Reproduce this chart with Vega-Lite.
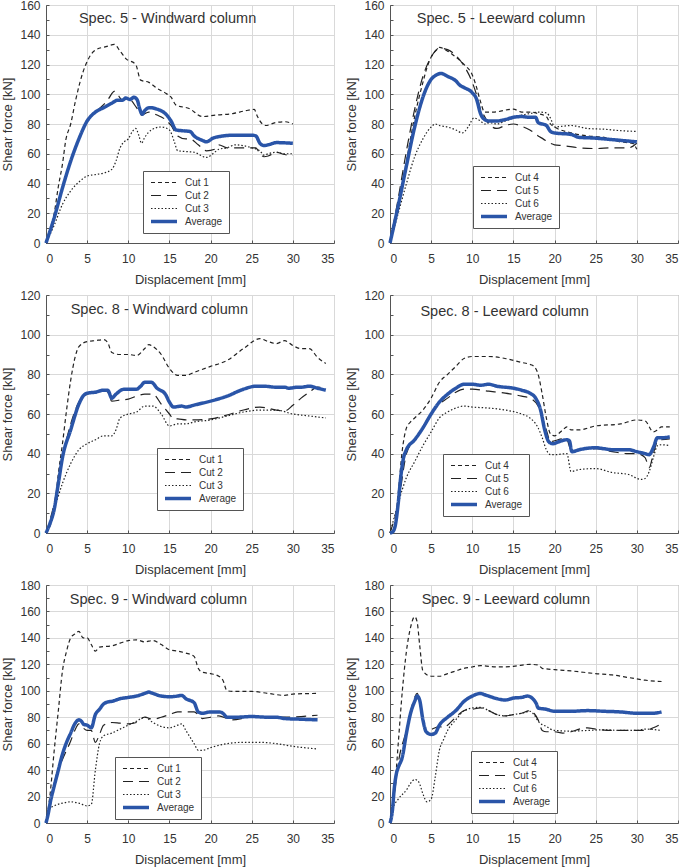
{
"$schema": "https://vega.github.io/schema/vega-lite/v6.json",
"autosize": {"type": "pad"},
"padding": {"left": 1, "top": -2, "right": 0, "bottom": 0},
"background": "white",
"config": {
  "font": "Liberation Sans",
  "view": {"stroke": "#888", "strokeWidth": 1},
  "axis": {"labelFont": "Liberation Sans", "labelFontSize": 12, "labelColor": "#333", "titleFont": "Liberation Sans", "titleFontSize": 13, "titleFontWeight": "normal", "titleColor": "#333", "gridColor": "#d9d9d9", "gridWidth": 1, "domainColor": "#555", "tickColor": "#555", "tickSize": -3, "labelOverlap": false},
  "axisX": {"labelPadding": 13, "titlePadding": 9, "values": [0,5,10,15,20,25,30,35]},
  "axisY": {"labelPadding": 9, "titlePadding": 5},
  "legend": {"title": null, "orient": "none", "symbolType": "stroke", "symbolSize": 676, "clipHeight": 11, "rowPadding": 2, "padding": 6, "fillColor": "white", "strokeColor": "#555", "labelFontSize": 10, "labelOffset": 6, "labelColor": "#333", "labelFont": "Liberation Sans", "cornerRadius": 0},
  "text": {"font": "Liberation Sans", "fill": "#333"}
},
"bounds": "flush",
"columns": 2,
"spacing": {"row": 52, "column": 56},
"resolve": {"scale": {"x": "independent", "y": "independent", "color": "independent", "strokeDash": "independent", "strokeWidth": "independent"}},
"datasets": {
"p1": [
{"s":"Cut 1","x":0,"y":0},{"s":"Cut 1","x":0.5,"y":8.5},{"s":"Cut 1","x":1,"y":20},{"s":"Cut 1","x":1.5,"y":38},{"s":"Cut 1","x":2,"y":53},{"s":"Cut 1","x":2.4,"y":69},{"s":"Cut 1","x":3,"y":80},{"s":"Cut 1","x":3.6,"y":96},{"s":"Cut 1","x":4.5,"y":115},{"s":"Cut 1","x":5,"y":122},{"s":"Cut 1","x":5.5,"y":127},{"s":"Cut 1","x":6.1,"y":130},{"s":"Cut 1","x":7.3,"y":132},{"s":"Cut 1","x":8.3,"y":133.5},{"s":"Cut 1","x":9,"y":129},{"s":"Cut 1","x":9.7,"y":124},{"s":"Cut 1","x":10.9,"y":120},{"s":"Cut 1","x":11.5,"y":109.5},{"s":"Cut 1","x":12.5,"y":108},{"s":"Cut 1","x":13.5,"y":104},{"s":"Cut 1","x":14.6,"y":100.5},{"s":"Cut 1","x":15.2,"y":98},{"s":"Cut 1","x":15.8,"y":92.7},{"s":"Cut 1","x":17.4,"y":90.4},{"s":"Cut 1","x":19,"y":85},{"s":"Cut 1","x":20.6,"y":86},{"s":"Cut 1","x":22.7,"y":87},{"s":"Cut 1","x":24.3,"y":89},{"s":"Cut 1","x":25.3,"y":89.8},{"s":"Cut 1","x":25.7,"y":85},{"s":"Cut 1","x":26.3,"y":80},{"s":"Cut 1","x":26.7,"y":79},{"s":"Cut 1","x":27.9,"y":81},{"s":"Cut 1","x":29.1,"y":81.5},{"s":"Cut 1","x":30,"y":80},
{"s":"Cut 2","x":0,"y":0},{"s":"Cut 2","x":1,"y":17},{"s":"Cut 2","x":2,"y":37},{"s":"Cut 2","x":3,"y":55},{"s":"Cut 2","x":4,"y":70},{"s":"Cut 2","x":5,"y":82},{"s":"Cut 2","x":6,"y":88},{"s":"Cut 2","x":7,"y":93},{"s":"Cut 2","x":7.6,"y":97},{"s":"Cut 2","x":8.3,"y":102},{"s":"Cut 2","x":8.8,"y":99},{"s":"Cut 2","x":9.3,"y":96},{"s":"Cut 2","x":10,"y":97},{"s":"Cut 2","x":11,"y":91},{"s":"Cut 2","x":11.6,"y":86},{"s":"Cut 2","x":12.5,"y":88},{"s":"Cut 2","x":13.5,"y":86},{"s":"Cut 2","x":14.5,"y":83},{"s":"Cut 2","x":15.2,"y":79},{"s":"Cut 2","x":16,"y":72},{"s":"Cut 2","x":17,"y":70},{"s":"Cut 2","x":17.5,"y":70},{"s":"Cut 2","x":18.5,"y":66},{"s":"Cut 2","x":19.5,"y":62},{"s":"Cut 2","x":20.5,"y":63},{"s":"Cut 2","x":21,"y":66},{"s":"Cut 2","x":22,"y":64},{"s":"Cut 2","x":24,"y":64},{"s":"Cut 2","x":25.5,"y":64},{"s":"Cut 2","x":26,"y":60},{"s":"Cut 2","x":26.5,"y":58},{"s":"Cut 2","x":27,"y":58.5},{"s":"Cut 2","x":28,"y":61},{"s":"Cut 2","x":29,"y":59.5},{"s":"Cut 2","x":30,"y":59},
{"s":"Cut 3","x":0,"y":0},{"s":"Cut 3","x":1,"y":12},{"s":"Cut 3","x":2,"y":26},{"s":"Cut 3","x":3,"y":35},{"s":"Cut 3","x":4,"y":41},{"s":"Cut 3","x":5,"y":45},{"s":"Cut 3","x":6,"y":46},{"s":"Cut 3","x":7,"y":47},{"s":"Cut 3","x":8,"y":49.5},{"s":"Cut 3","x":8.5,"y":55},{"s":"Cut 3","x":9,"y":64},{"s":"Cut 3","x":9.5,"y":68},{"s":"Cut 3","x":10,"y":70},{"s":"Cut 3","x":10.5,"y":75},{"s":"Cut 3","x":10.9,"y":77},{"s":"Cut 3","x":11.3,"y":72},{"s":"Cut 3","x":11.6,"y":67},{"s":"Cut 3","x":12,"y":71},{"s":"Cut 3","x":12.8,"y":76},{"s":"Cut 3","x":14,"y":78},{"s":"Cut 3","x":15,"y":76},{"s":"Cut 3","x":15.6,"y":68},{"s":"Cut 3","x":16,"y":62},{"s":"Cut 3","x":17,"y":61.5},{"s":"Cut 3","x":18,"y":61},{"s":"Cut 3","x":19.5,"y":57.5},{"s":"Cut 3","x":20.5,"y":61},{"s":"Cut 3","x":21,"y":63},{"s":"Cut 3","x":22,"y":64},{"s":"Cut 3","x":23,"y":66},{"s":"Cut 3","x":25,"y":64},{"s":"Cut 3","x":26,"y":62},{"s":"Cut 3","x":26.5,"y":59},{"s":"Cut 3","x":27,"y":60},{"s":"Cut 3","x":28,"y":61},{"s":"Cut 3","x":29,"y":60},{"s":"Cut 3","x":30,"y":60},
{"s":"Average","x":0,"y":0},{"s":"Average","x":1,"y":17},{"s":"Average","x":2,"y":37},{"s":"Average","x":3,"y":55},{"s":"Average","x":4,"y":70},{"s":"Average","x":5,"y":82},{"s":"Average","x":6,"y":88},{"s":"Average","x":7,"y":91},{"s":"Average","x":8,"y":94},{"s":"Average","x":8.7,"y":96},{"s":"Average","x":9.3,"y":96},{"s":"Average","x":9.7,"y":97.5},{"s":"Average","x":10.2,"y":96.5},{"s":"Average","x":10.7,"y":98},{"s":"Average","x":11.1,"y":96},{"s":"Average","x":11.4,"y":90},{"s":"Average","x":11.7,"y":86.5},{"s":"Average","x":12,"y":89},{"s":"Average","x":12.6,"y":91},{"s":"Average","x":13.5,"y":90},{"s":"Average","x":14.5,"y":87},{"s":"Average","x":15.2,"y":82},{"s":"Average","x":15.8,"y":76},{"s":"Average","x":16.5,"y":75.5},{"s":"Average","x":17.5,"y":75},{"s":"Average","x":18,"y":72},{"s":"Average","x":19,"y":69},{"s":"Average","x":19.5,"y":68},{"s":"Average","x":20.3,"y":70.5},{"s":"Average","x":21,"y":71.5},{"s":"Average","x":23,"y":72.5},{"s":"Average","x":25,"y":72.5},{"s":"Average","x":25.5,"y":72},{"s":"Average","x":26,"y":67},{"s":"Average","x":26.5,"y":65.5},{"s":"Average","x":27,"y":66},{"s":"Average","x":28,"y":67.5},{"s":"Average","x":30,"y":67}
],
"p2": [
{"s":"Cut 4","x":0,"y":0},{"s":"Cut 4","x":1,"y":25},{"s":"Cut 4","x":2,"y":55},{"s":"Cut 4","x":3,"y":85},{"s":"Cut 4","x":4,"y":108},{"s":"Cut 4","x":4.5,"y":118},{"s":"Cut 4","x":5,"y":125},{"s":"Cut 4","x":5.7,"y":130},{"s":"Cut 4","x":6,"y":131.5},{"s":"Cut 4","x":7,"y":129},{"s":"Cut 4","x":8,"y":125},{"s":"Cut 4","x":9,"y":120},{"s":"Cut 4","x":10,"y":113},{"s":"Cut 4","x":10.5,"y":105},{"s":"Cut 4","x":11,"y":95},{"s":"Cut 4","x":11.5,"y":88},{"s":"Cut 4","x":12.5,"y":88},{"s":"Cut 4","x":15,"y":90},{"s":"Cut 4","x":16,"y":88},{"s":"Cut 4","x":17,"y":88},{"s":"Cut 4","x":18,"y":87},{"s":"Cut 4","x":19,"y":85},{"s":"Cut 4","x":19.5,"y":80},{"s":"Cut 4","x":20,"y":78},{"s":"Cut 4","x":22,"y":74},{"s":"Cut 4","x":24,"y":72},{"s":"Cut 4","x":26,"y":71},{"s":"Cut 4","x":28,"y":68},{"s":"Cut 4","x":29.5,"y":67},{"s":"Cut 4","x":30,"y":63},
{"s":"Cut 5","x":0,"y":0},{"s":"Cut 5","x":1,"y":30},{"s":"Cut 5","x":2,"y":62},{"s":"Cut 5","x":3,"y":90},{"s":"Cut 5","x":4,"y":112},{"s":"Cut 5","x":5,"y":125},{"s":"Cut 5","x":6,"y":131},{"s":"Cut 5","x":7,"y":130},{"s":"Cut 5","x":8,"y":126},{"s":"Cut 5","x":9,"y":119},{"s":"Cut 5","x":10,"y":108},{"s":"Cut 5","x":10.5,"y":100},{"s":"Cut 5","x":11,"y":90},{"s":"Cut 5","x":11.5,"y":85},{"s":"Cut 5","x":12,"y":80},{"s":"Cut 5","x":13,"y":77},{"s":"Cut 5","x":14,"y":79},{"s":"Cut 5","x":15,"y":80},{"s":"Cut 5","x":16,"y":78.5},{"s":"Cut 5","x":17,"y":76},{"s":"Cut 5","x":18,"y":72},{"s":"Cut 5","x":18.6,"y":70},{"s":"Cut 5","x":19.5,"y":67},{"s":"Cut 5","x":20,"y":66},{"s":"Cut 5","x":21,"y":65.5},{"s":"Cut 5","x":23,"y":64},{"s":"Cut 5","x":25,"y":63.5},{"s":"Cut 5","x":27,"y":64},{"s":"Cut 5","x":29,"y":64},{"s":"Cut 5","x":30,"y":67},
{"s":"Cut 6","x":0,"y":0},{"s":"Cut 6","x":1,"y":20},{"s":"Cut 6","x":2,"y":40},{"s":"Cut 6","x":3,"y":58},{"s":"Cut 6","x":4,"y":70},{"s":"Cut 6","x":5,"y":78},{"s":"Cut 6","x":5.5,"y":80},{"s":"Cut 6","x":6,"y":79},{"s":"Cut 6","x":7,"y":78},{"s":"Cut 6","x":8,"y":76},{"s":"Cut 6","x":8.8,"y":74},{"s":"Cut 6","x":9.5,"y":78},{"s":"Cut 6","x":10.2,"y":84},{"s":"Cut 6","x":11,"y":82},{"s":"Cut 6","x":11.5,"y":80},{"s":"Cut 6","x":12,"y":81},{"s":"Cut 6","x":13,"y":80},{"s":"Cut 6","x":14,"y":82},{"s":"Cut 6","x":15,"y":84},{"s":"Cut 6","x":16,"y":86},{"s":"Cut 6","x":17,"y":87},{"s":"Cut 6","x":18,"y":88},{"s":"Cut 6","x":19,"y":87.5},{"s":"Cut 6","x":19.5,"y":84},{"s":"Cut 6","x":20,"y":78},{"s":"Cut 6","x":21,"y":78.5},{"s":"Cut 6","x":22,"y":79},{"s":"Cut 6","x":24,"y":77},{"s":"Cut 6","x":26,"y":76.5},{"s":"Cut 6","x":28,"y":75.5},{"s":"Cut 6","x":30,"y":75},
{"s":"Average","x":0,"y":0},{"s":"Average","x":1,"y":25},{"s":"Average","x":2,"y":52},{"s":"Average","x":3,"y":78},{"s":"Average","x":4,"y":98},{"s":"Average","x":5,"y":110},{"s":"Average","x":5.5,"y":112.5},{"s":"Average","x":6.2,"y":114},{"s":"Average","x":7,"y":112},{"s":"Average","x":8,"y":109},{"s":"Average","x":8.5,"y":106},{"s":"Average","x":9,"y":104.5},{"s":"Average","x":10,"y":101},{"s":"Average","x":10.5,"y":97},{"s":"Average","x":11,"y":87},{"s":"Average","x":11.5,"y":83},{"s":"Average","x":12,"y":82},{"s":"Average","x":13,"y":82},{"s":"Average","x":14,"y":83},{"s":"Average","x":15,"y":84.5},{"s":"Average","x":16,"y":85},{"s":"Average","x":17,"y":84.5},{"s":"Average","x":17.7,"y":84.5},{"s":"Average","x":18,"y":81},{"s":"Average","x":19,"y":79},{"s":"Average","x":19.5,"y":75},{"s":"Average","x":20,"y":74},{"s":"Average","x":22,"y":73},{"s":"Average","x":23,"y":71},{"s":"Average","x":25,"y":70.5},{"s":"Average","x":26,"y":70},{"s":"Average","x":27,"y":69.5},{"s":"Average","x":28,"y":69},{"s":"Average","x":29,"y":68.5},{"s":"Average","x":30,"y":68}
],
"p3": [
{"s":"Cut 1","x":0,"y":0},{"s":"Cut 1","x":1,"y":12},{"s":"Cut 1","x":1.5,"y":30},{"s":"Cut 1","x":2,"y":45},{"s":"Cut 1","x":2.5,"y":62},{"s":"Cut 1","x":3,"y":77},{"s":"Cut 1","x":3.5,"y":88},{"s":"Cut 1","x":4,"y":94},{"s":"Cut 1","x":5,"y":96.5},{"s":"Cut 1","x":6,"y":97},{"s":"Cut 1","x":7,"y":97.5},{"s":"Cut 1","x":7.5,"y":96},{"s":"Cut 1","x":8,"y":91},{"s":"Cut 1","x":9,"y":90},{"s":"Cut 1","x":10,"y":90},{"s":"Cut 1","x":11,"y":89.5},{"s":"Cut 1","x":12,"y":93},{"s":"Cut 1","x":12.5,"y":95},{"s":"Cut 1","x":13,"y":94},{"s":"Cut 1","x":14,"y":90},{"s":"Cut 1","x":15,"y":83},{"s":"Cut 1","x":16,"y":79.5},{"s":"Cut 1","x":17,"y":79.5},{"s":"Cut 1","x":18,"y":81},{"s":"Cut 1","x":20,"y":84},{"s":"Cut 1","x":22,"y":87},{"s":"Cut 1","x":24,"y":93},{"s":"Cut 1","x":26,"y":98},{"s":"Cut 1","x":27,"y":96.5},{"s":"Cut 1","x":28,"y":95.5},{"s":"Cut 1","x":29,"y":97},{"s":"Cut 1","x":30,"y":94.5},{"s":"Cut 1","x":31,"y":93},{"s":"Cut 1","x":32,"y":93},{"s":"Cut 1","x":33,"y":88.5},{"s":"Cut 1","x":34,"y":85.5},
{"s":"Cut 2","x":0,"y":0},{"s":"Cut 2","x":1,"y":15},{"s":"Cut 2","x":2,"y":38},{"s":"Cut 2","x":3,"y":55},{"s":"Cut 2","x":4,"y":66},{"s":"Cut 2","x":5,"y":70},{"s":"Cut 2","x":6,"y":71},{"s":"Cut 2","x":7,"y":72},{"s":"Cut 2","x":7.5,"y":71},{"s":"Cut 2","x":8,"y":66.5},{"s":"Cut 2","x":9,"y":67},{"s":"Cut 2","x":10,"y":67.5},{"s":"Cut 2","x":11,"y":69},{"s":"Cut 2","x":12,"y":70},{"s":"Cut 2","x":13,"y":70},{"s":"Cut 2","x":14,"y":65},{"s":"Cut 2","x":15,"y":60},{"s":"Cut 2","x":15.5,"y":57.5},{"s":"Cut 2","x":16,"y":57.5},{"s":"Cut 2","x":17,"y":57},{"s":"Cut 2","x":18,"y":57},{"s":"Cut 2","x":20,"y":57.5},{"s":"Cut 2","x":22,"y":59.5},{"s":"Cut 2","x":24,"y":62},{"s":"Cut 2","x":26,"y":63.5},{"s":"Cut 2","x":28,"y":62},{"s":"Cut 2","x":29,"y":61.5},{"s":"Cut 2","x":30,"y":64.4},{"s":"Cut 2","x":31,"y":68},{"s":"Cut 2","x":32,"y":71},{"s":"Cut 2","x":33,"y":73.6},{"s":"Cut 2","x":34,"y":72.5},
{"s":"Cut 3","x":0,"y":0},{"s":"Cut 3","x":1,"y":12},{"s":"Cut 3","x":2,"y":25},{"s":"Cut 3","x":3,"y":35},{"s":"Cut 3","x":4,"y":42},{"s":"Cut 3","x":5,"y":45},{"s":"Cut 3","x":6,"y":47},{"s":"Cut 3","x":7,"y":49},{"s":"Cut 3","x":8,"y":49},{"s":"Cut 3","x":8.5,"y":52},{"s":"Cut 3","x":9,"y":58},{"s":"Cut 3","x":10,"y":60},{"s":"Cut 3","x":11,"y":61},{"s":"Cut 3","x":12,"y":64},{"s":"Cut 3","x":13,"y":64},{"s":"Cut 3","x":14,"y":60},{"s":"Cut 3","x":15,"y":54},{"s":"Cut 3","x":16,"y":55},{"s":"Cut 3","x":17,"y":55},{"s":"Cut 3","x":18,"y":56},{"s":"Cut 3","x":20,"y":57},{"s":"Cut 3","x":22,"y":59},{"s":"Cut 3","x":24,"y":61},{"s":"Cut 3","x":26,"y":62},{"s":"Cut 3","x":28,"y":62},{"s":"Cut 3","x":30,"y":60},{"s":"Cut 3","x":32,"y":59},{"s":"Cut 3","x":34,"y":58},
{"s":"Average","x":0,"y":0},{"s":"Average","x":0.5,"y":5},{"s":"Average","x":1,"y":12},{"s":"Average","x":1.5,"y":25},{"s":"Average","x":2,"y":38},{"s":"Average","x":3,"y":52},{"s":"Average","x":4,"y":65},{"s":"Average","x":4.5,"y":69},{"s":"Average","x":5,"y":70.5},{"s":"Average","x":6,"y":71},{"s":"Average","x":7,"y":72},{"s":"Average","x":7.5,"y":72},{"s":"Average","x":8,"y":68},{"s":"Average","x":8.5,"y":70},{"s":"Average","x":9.5,"y":72.5},{"s":"Average","x":10.5,"y":72.5},{"s":"Average","x":11,"y":72.5},{"s":"Average","x":11.5,"y":74},{"s":"Average","x":12,"y":76},{"s":"Average","x":12.8,"y":76},{"s":"Average","x":13.5,"y":73},{"s":"Average","x":14.5,"y":70},{"s":"Average","x":15,"y":66},{"s":"Average","x":15.5,"y":63.5},{"s":"Average","x":16.5,"y":64},{"s":"Average","x":17,"y":63.5},{"s":"Average","x":18,"y":64.5},{"s":"Average","x":20,"y":66.5},{"s":"Average","x":22,"y":69},{"s":"Average","x":24,"y":72.5},{"s":"Average","x":25.5,"y":74},{"s":"Average","x":26.5,"y":74},{"s":"Average","x":28,"y":73.5},{"s":"Average","x":29,"y":73.5},{"s":"Average","x":29.5,"y":73},{"s":"Average","x":30.5,"y":73.5},{"s":"Average","x":31,"y":73.5},{"s":"Average","x":32,"y":74},{"s":"Average","x":33,"y":73},{"s":"Average","x":34,"y":72}
],
"p4": [
{"s":"Cut 4","x":0,"y":0},{"s":"Cut 4","x":0.5,"y":2},{"s":"Cut 4","x":1,"y":20},{"s":"Cut 4","x":1.5,"y":42},{"s":"Cut 4","x":2,"y":53},{"s":"Cut 4","x":2.5,"y":56},{"s":"Cut 4","x":3,"y":58},{"s":"Cut 4","x":4,"y":62},{"s":"Cut 4","x":5,"y":68},{"s":"Cut 4","x":6,"y":76},{"s":"Cut 4","x":7,"y":80},{"s":"Cut 4","x":8,"y":84},{"s":"Cut 4","x":9,"y":88},{"s":"Cut 4","x":10,"y":89},{"s":"Cut 4","x":12,"y":89},{"s":"Cut 4","x":14,"y":88},{"s":"Cut 4","x":16,"y":86},{"s":"Cut 4","x":17,"y":85},{"s":"Cut 4","x":17.5,"y":84},{"s":"Cut 4","x":18,"y":80},{"s":"Cut 4","x":18.5,"y":70},{"s":"Cut 4","x":19,"y":58},{"s":"Cut 4","x":19.5,"y":50},{"s":"Cut 4","x":20,"y":49},{"s":"Cut 4","x":21,"y":52},{"s":"Cut 4","x":21.5,"y":53.5},{"s":"Cut 4","x":22,"y":52},{"s":"Cut 4","x":23,"y":52},{"s":"Cut 4","x":25,"y":54},{"s":"Cut 4","x":28,"y":55},{"s":"Cut 4","x":30,"y":57},{"s":"Cut 4","x":31,"y":56.5},{"s":"Cut 4","x":32,"y":51},{"s":"Cut 4","x":32.5,"y":52},{"s":"Cut 4","x":33,"y":53.5},{"s":"Cut 4","x":34,"y":53.5},
{"s":"Cut 5","x":0,"y":0},{"s":"Cut 5","x":1,"y":15},{"s":"Cut 5","x":2,"y":40},{"s":"Cut 5","x":3,"y":47},{"s":"Cut 5","x":4,"y":53},{"s":"Cut 5","x":5,"y":60},{"s":"Cut 5","x":6,"y":65},{"s":"Cut 5","x":7,"y":68},{"s":"Cut 5","x":8,"y":71},{"s":"Cut 5","x":9,"y":72.5},{"s":"Cut 5","x":10,"y":72.5},{"s":"Cut 5","x":12,"y":71.5},{"s":"Cut 5","x":14,"y":70.5},{"s":"Cut 5","x":16,"y":69},{"s":"Cut 5","x":17,"y":68},{"s":"Cut 5","x":18,"y":64},{"s":"Cut 5","x":19,"y":52},{"s":"Cut 5","x":19.5,"y":46},{"s":"Cut 5","x":20,"y":46.5},{"s":"Cut 5","x":21,"y":47.5},{"s":"Cut 5","x":21.5,"y":47},{"s":"Cut 5","x":22,"y":42},{"s":"Cut 5","x":23,"y":42},{"s":"Cut 5","x":25,"y":42.5},{"s":"Cut 5","x":27,"y":41},{"s":"Cut 5","x":29,"y":40},{"s":"Cut 5","x":30,"y":40},{"s":"Cut 5","x":31,"y":38},{"s":"Cut 5","x":31.5,"y":33},{"s":"Cut 5","x":32,"y":40},{"s":"Cut 5","x":32.5,"y":46},{"s":"Cut 5","x":33,"y":47},{"s":"Cut 5","x":34,"y":47.5},
{"s":"Cut 6","x":0,"y":0},{"s":"Cut 6","x":1,"y":15},{"s":"Cut 6","x":1.5,"y":22},{"s":"Cut 6","x":2,"y":28},{"s":"Cut 6","x":3,"y":36},{"s":"Cut 6","x":4,"y":44},{"s":"Cut 6","x":5,"y":51},{"s":"Cut 6","x":6,"y":58},{"s":"Cut 6","x":7,"y":61},{"s":"Cut 6","x":8,"y":63},{"s":"Cut 6","x":9,"y":64},{"s":"Cut 6","x":10,"y":63.5},{"s":"Cut 6","x":12,"y":63},{"s":"Cut 6","x":14,"y":62},{"s":"Cut 6","x":16,"y":60},{"s":"Cut 6","x":17,"y":58},{"s":"Cut 6","x":18,"y":53},{"s":"Cut 6","x":18.5,"y":48},{"s":"Cut 6","x":19,"y":42},{"s":"Cut 6","x":19.5,"y":39.5},{"s":"Cut 6","x":20,"y":39.5},{"s":"Cut 6","x":21.5,"y":40},{"s":"Cut 6","x":22,"y":31},{"s":"Cut 6","x":23,"y":32},{"s":"Cut 6","x":25,"y":32.5},{"s":"Cut 6","x":27,"y":30.5},{"s":"Cut 6","x":29,"y":29.5},{"s":"Cut 6","x":30.5,"y":27},{"s":"Cut 6","x":31,"y":27.5},{"s":"Cut 6","x":31.5,"y":31},{"s":"Cut 6","x":32,"y":38},{"s":"Cut 6","x":32.5,"y":44},{"s":"Cut 6","x":33,"y":44.5},{"s":"Cut 6","x":34,"y":44},
{"s":"Average","x":0,"y":0},{"s":"Average","x":0.3,"y":0.5},{"s":"Average","x":0.6,"y":3},{"s":"Average","x":1,"y":15},{"s":"Average","x":1.3,"y":28},{"s":"Average","x":1.6,"y":37},{"s":"Average","x":2,"y":42},{"s":"Average","x":3,"y":47},{"s":"Average","x":4,"y":53},{"s":"Average","x":5,"y":60},{"s":"Average","x":6,"y":66},{"s":"Average","x":7,"y":70},{"s":"Average","x":8,"y":73},{"s":"Average","x":9,"y":75},{"s":"Average","x":10,"y":75},{"s":"Average","x":11,"y":74.5},{"s":"Average","x":12,"y":75},{"s":"Average","x":13,"y":74},{"s":"Average","x":15,"y":73},{"s":"Average","x":16,"y":72},{"s":"Average","x":17,"y":70.5},{"s":"Average","x":17.7,"y":68},{"s":"Average","x":18.3,"y":62},{"s":"Average","x":18.8,"y":52},{"s":"Average","x":19.3,"y":46},{"s":"Average","x":19.8,"y":45},{"s":"Average","x":20.5,"y":46},{"s":"Average","x":21.5,"y":47},{"s":"Average","x":21.8,"y":46.5},{"s":"Average","x":22.1,"y":41},{"s":"Average","x":23,"y":42},{"s":"Average","x":25,"y":43},{"s":"Average","x":26,"y":42.5},{"s":"Average","x":27,"y":42},{"s":"Average","x":29,"y":42},{"s":"Average","x":30,"y":41},{"s":"Average","x":31,"y":40},{"s":"Average","x":31.5,"y":39.5},{"s":"Average","x":32,"y":43},{"s":"Average","x":32.5,"y":48},{"s":"Average","x":33,"y":48},{"s":"Average","x":34,"y":48.5}
],
"p5": [
{"s":"Cut 1","x":0,"y":0},{"s":"Cut 1","x":0.5,"y":22},{"s":"Cut 1","x":1,"y":55},{"s":"Cut 1","x":1.5,"y":85},{"s":"Cut 1","x":2,"y":115},{"s":"Cut 1","x":2.5,"y":130},{"s":"Cut 1","x":3,"y":140},{"s":"Cut 1","x":3.5,"y":143},{"s":"Cut 1","x":4,"y":145},{"s":"Cut 1","x":4.5,"y":140},{"s":"Cut 1","x":5,"y":140},{"s":"Cut 1","x":5.5,"y":135},{"s":"Cut 1","x":6,"y":130},{"s":"Cut 1","x":6.5,"y":133},{"s":"Cut 1","x":8,"y":134},{"s":"Cut 1","x":9,"y":136},{"s":"Cut 1","x":10,"y":138},{"s":"Cut 1","x":11,"y":138.5},{"s":"Cut 1","x":12,"y":137},{"s":"Cut 1","x":13,"y":138},{"s":"Cut 1","x":14,"y":135},{"s":"Cut 1","x":15,"y":131},{"s":"Cut 1","x":16,"y":130},{"s":"Cut 1","x":17,"y":128.5},{"s":"Cut 1","x":18,"y":126},{"s":"Cut 1","x":18.5,"y":117},{"s":"Cut 1","x":19,"y":114},{"s":"Cut 1","x":20,"y":113},{"s":"Cut 1","x":21,"y":111},{"s":"Cut 1","x":21.5,"y":108},{"s":"Cut 1","x":22,"y":100},{"s":"Cut 1","x":23,"y":99.5},{"s":"Cut 1","x":25,"y":99.5},{"s":"Cut 1","x":27,"y":98},{"s":"Cut 1","x":29,"y":96.5},{"s":"Cut 1","x":30,"y":97.5},{"s":"Cut 1","x":33,"y":98},
{"s":"Cut 2","x":0,"y":0},{"s":"Cut 2","x":0.5,"y":12},{"s":"Cut 2","x":1,"y":30},{"s":"Cut 2","x":2,"y":48},{"s":"Cut 2","x":3,"y":62},{"s":"Cut 2","x":3.5,"y":70},{"s":"Cut 2","x":4,"y":75},{"s":"Cut 2","x":4.5,"y":72},{"s":"Cut 2","x":5,"y":70},{"s":"Cut 2","x":5.5,"y":70},{"s":"Cut 2","x":6,"y":61},{"s":"Cut 2","x":6.5,"y":67},{"s":"Cut 2","x":7,"y":74},{"s":"Cut 2","x":8,"y":76},{"s":"Cut 2","x":9,"y":75.5},{"s":"Cut 2","x":10,"y":75},{"s":"Cut 2","x":11,"y":76},{"s":"Cut 2","x":12,"y":80},{"s":"Cut 2","x":13,"y":78.5},{"s":"Cut 2","x":14,"y":80},{"s":"Cut 2","x":15,"y":82},{"s":"Cut 2","x":16,"y":84},{"s":"Cut 2","x":17,"y":84},{"s":"Cut 2","x":18,"y":84},{"s":"Cut 2","x":18.5,"y":82},{"s":"Cut 2","x":19,"y":79},{"s":"Cut 2","x":20,"y":80},{"s":"Cut 2","x":21,"y":81},{"s":"Cut 2","x":22,"y":79},{"s":"Cut 2","x":22.5,"y":78},{"s":"Cut 2","x":25,"y":80},{"s":"Cut 2","x":27,"y":80},{"s":"Cut 2","x":29,"y":80},{"s":"Cut 2","x":31,"y":80.5},{"s":"Cut 2","x":33,"y":81.5},
{"s":"Cut 3","x":0,"y":0},{"s":"Cut 3","x":0.3,"y":10},{"s":"Cut 3","x":1,"y":13},{"s":"Cut 3","x":2,"y":15},{"s":"Cut 3","x":3,"y":16},{"s":"Cut 3","x":4,"y":15},{"s":"Cut 3","x":5,"y":13},{"s":"Cut 3","x":5.5,"y":14},{"s":"Cut 3","x":6,"y":40},{"s":"Cut 3","x":6.5,"y":60},{"s":"Cut 3","x":7,"y":66},{"s":"Cut 3","x":8,"y":68},{"s":"Cut 3","x":9,"y":71},{"s":"Cut 3","x":10,"y":74},{"s":"Cut 3","x":11,"y":77},{"s":"Cut 3","x":12,"y":80},{"s":"Cut 3","x":13,"y":76},{"s":"Cut 3","x":14,"y":73},{"s":"Cut 3","x":15,"y":72},{"s":"Cut 3","x":16,"y":74},{"s":"Cut 3","x":16.5,"y":75},{"s":"Cut 3","x":17,"y":70},{"s":"Cut 3","x":18,"y":60},{"s":"Cut 3","x":18.5,"y":55},{"s":"Cut 3","x":19,"y":55},{"s":"Cut 3","x":20,"y":57},{"s":"Cut 3","x":22,"y":60},{"s":"Cut 3","x":24,"y":61},{"s":"Cut 3","x":26,"y":61},{"s":"Cut 3","x":28,"y":60},{"s":"Cut 3","x":30,"y":58},{"s":"Cut 3","x":33,"y":56},
{"s":"Average","x":0,"y":0},{"s":"Average","x":0.3,"y":8},{"s":"Average","x":0.5,"y":15},{"s":"Average","x":1,"y":28},{"s":"Average","x":1.5,"y":40},{"s":"Average","x":2,"y":52},{"s":"Average","x":2.5,"y":61},{"s":"Average","x":3,"y":68},{"s":"Average","x":3.5,"y":75},{"s":"Average","x":4,"y":78},{"s":"Average","x":4.3,"y":77},{"s":"Average","x":4.6,"y":74.5},{"s":"Average","x":5,"y":74},{"s":"Average","x":5.5,"y":72},{"s":"Average","x":6,"y":82},{"s":"Average","x":6.5,"y":86},{"s":"Average","x":7,"y":90},{"s":"Average","x":7.5,"y":91.5},{"s":"Average","x":8,"y":92},{"s":"Average","x":9,"y":94},{"s":"Average","x":10,"y":95},{"s":"Average","x":11,"y":96},{"s":"Average","x":12,"y":98},{"s":"Average","x":12.5,"y":99},{"s":"Average","x":13,"y":98},{"s":"Average","x":14,"y":96},{"s":"Average","x":15,"y":95.5},{"s":"Average","x":16,"y":96},{"s":"Average","x":16.5,"y":96.5},{"s":"Average","x":17,"y":94},{"s":"Average","x":18,"y":91},{"s":"Average","x":18.5,"y":84},{"s":"Average","x":19,"y":83},{"s":"Average","x":20,"y":84},{"s":"Average","x":21,"y":84},{"s":"Average","x":21.5,"y":83},{"s":"Average","x":22,"y":80},{"s":"Average","x":23,"y":80},{"s":"Average","x":25,"y":80.5},{"s":"Average","x":27,"y":80},{"s":"Average","x":28,"y":80},{"s":"Average","x":29,"y":79},{"s":"Average","x":31,"y":78.5},{"s":"Average","x":33,"y":78}
],
"p6": [
{"s":"Cut 4","x":0,"y":0},{"s":"Cut 4","x":0.5,"y":20},{"s":"Cut 4","x":1,"y":60},{"s":"Cut 4","x":1.5,"y":100},{"s":"Cut 4","x":2,"y":130},{"s":"Cut 4","x":2.5,"y":148},{"s":"Cut 4","x":3,"y":156},{"s":"Cut 4","x":3.3,"y":152},{"s":"Cut 4","x":3.6,"y":135},{"s":"Cut 4","x":4,"y":115},{"s":"Cut 4","x":5,"y":111},{"s":"Cut 4","x":6,"y":111},{"s":"Cut 4","x":7,"y":113},{"s":"Cut 4","x":8,"y":115},{"s":"Cut 4","x":9,"y":117},{"s":"Cut 4","x":10,"y":118},{"s":"Cut 4","x":11,"y":119},{"s":"Cut 4","x":13,"y":118},{"s":"Cut 4","x":15,"y":118.5},{"s":"Cut 4","x":17,"y":120},{"s":"Cut 4","x":18,"y":119.5},{"s":"Cut 4","x":18.5,"y":117},{"s":"Cut 4","x":20,"y":116},{"s":"Cut 4","x":22,"y":115},{"s":"Cut 4","x":25,"y":113},{"s":"Cut 4","x":27,"y":112},{"s":"Cut 4","x":29,"y":110},{"s":"Cut 4","x":31,"y":108},{"s":"Cut 4","x":33,"y":107},
{"s":"Cut 5","x":0,"y":0},{"s":"Cut 5","x":0.5,"y":20},{"s":"Cut 5","x":1,"y":45},{"s":"Cut 5","x":2,"y":70},{"s":"Cut 5","x":3,"y":95},{"s":"Cut 5","x":3.3,"y":98},{"s":"Cut 5","x":3.8,"y":85},{"s":"Cut 5","x":4.2,"y":72},{"s":"Cut 5","x":5,"y":71},{"s":"Cut 5","x":6,"y":73},{"s":"Cut 5","x":6.5,"y":72},{"s":"Cut 5","x":7,"y":74},{"s":"Cut 5","x":8,"y":80},{"s":"Cut 5","x":9,"y":85},{"s":"Cut 5","x":10,"y":86},{"s":"Cut 5","x":11,"y":87},{"s":"Cut 5","x":12,"y":85},{"s":"Cut 5","x":13,"y":82},{"s":"Cut 5","x":14,"y":81},{"s":"Cut 5","x":15,"y":82},{"s":"Cut 5","x":16,"y":83},{"s":"Cut 5","x":17,"y":85},{"s":"Cut 5","x":17.5,"y":83},{"s":"Cut 5","x":18,"y":78},{"s":"Cut 5","x":18.5,"y":70},{"s":"Cut 5","x":19,"y":69},{"s":"Cut 5","x":20,"y":69},{"s":"Cut 5","x":21,"y":68},{"s":"Cut 5","x":22,"y":69},{"s":"Cut 5","x":23,"y":71},{"s":"Cut 5","x":24,"y":72},{"s":"Cut 5","x":25,"y":71},{"s":"Cut 5","x":27,"y":70},{"s":"Cut 5","x":29,"y":70},{"s":"Cut 5","x":31,"y":70},{"s":"Cut 5","x":32,"y":72},{"s":"Cut 5","x":33,"y":75},
{"s":"Cut 6","x":0,"y":0},{"s":"Cut 6","x":0.3,"y":10},{"s":"Cut 6","x":1,"y":18},{"s":"Cut 6","x":2,"y":25},{"s":"Cut 6","x":2.5,"y":30},{"s":"Cut 6","x":3,"y":33},{"s":"Cut 6","x":3.5,"y":31},{"s":"Cut 6","x":4,"y":22},{"s":"Cut 6","x":4.5,"y":16},{"s":"Cut 6","x":5,"y":18},{"s":"Cut 6","x":5.5,"y":35},{"s":"Cut 6","x":6,"y":55},{"s":"Cut 6","x":6.5,"y":63},{"s":"Cut 6","x":7,"y":70},{"s":"Cut 6","x":8,"y":78},{"s":"Cut 6","x":9,"y":85},{"s":"Cut 6","x":10,"y":87},{"s":"Cut 6","x":11,"y":87.5},{"s":"Cut 6","x":12,"y":85},{"s":"Cut 6","x":13,"y":82},{"s":"Cut 6","x":14,"y":81},{"s":"Cut 6","x":15,"y":82},{"s":"Cut 6","x":16,"y":83},{"s":"Cut 6","x":17,"y":84.5},{"s":"Cut 6","x":17.5,"y":82},{"s":"Cut 6","x":18,"y":77},{"s":"Cut 6","x":19,"y":73},{"s":"Cut 6","x":20,"y":70},{"s":"Cut 6","x":22,"y":69.5},{"s":"Cut 6","x":24,"y":70},{"s":"Cut 6","x":26,"y":70.5},{"s":"Cut 6","x":28,"y":70},{"s":"Cut 6","x":30,"y":70},{"s":"Cut 6","x":31,"y":71},{"s":"Cut 6","x":33,"y":70},
{"s":"Average","x":0,"y":0},{"s":"Average","x":0.3,"y":10},{"s":"Average","x":0.5,"y":25},{"s":"Average","x":0.8,"y":38},{"s":"Average","x":1,"y":42},{"s":"Average","x":1.5,"y":50},{"s":"Average","x":2,"y":68},{"s":"Average","x":2.5,"y":83},{"s":"Average","x":3,"y":92},{"s":"Average","x":3.3,"y":96},{"s":"Average","x":3.6,"y":93},{"s":"Average","x":4,"y":78},{"s":"Average","x":4.4,"y":69},{"s":"Average","x":5,"y":67},{"s":"Average","x":5.5,"y":68},{"s":"Average","x":6,"y":74},{"s":"Average","x":7,"y":80},{"s":"Average","x":8,"y":85},{"s":"Average","x":9,"y":92},{"s":"Average","x":10,"y":96},{"s":"Average","x":11,"y":98},{"s":"Average","x":11.5,"y":97},{"s":"Average","x":12,"y":96},{"s":"Average","x":13,"y":94},{"s":"Average","x":14,"y":93},{"s":"Average","x":15,"y":94.5},{"s":"Average","x":16,"y":95},{"s":"Average","x":16.7,"y":96},{"s":"Average","x":17.5,"y":93},{"s":"Average","x":17.8,"y":90},{"s":"Average","x":18,"y":87},{"s":"Average","x":19,"y":86},{"s":"Average","x":20,"y":84.5},{"s":"Average","x":22,"y":84.5},{"s":"Average","x":24,"y":85},{"s":"Average","x":26,"y":84.5},{"s":"Average","x":28,"y":84},{"s":"Average","x":30,"y":83},{"s":"Average","x":32,"y":83},{"s":"Average","x":33,"y":84}
]
},
"concat": [
{
 "width": 288, "height": 238,
 "layer": [
  {"data": {"name": "p1"}, "mark": {"type": "line", "interpolate": "monotone"},
   "encoding": {
    "x": {"field": "x", "type": "quantitative", "scale": {"domain": [0, 35], "nice": false}, "axis": {"title": "Displacement [mm]"}},
    "y": {"field": "y", "type": "quantitative", "scale": {"domain": [0, 160], "nice": false}, "axis": {"title": "Shear force [kN]", "labelOverlap": false, "values": [0,10,20,30,40,50,60,70,80,90,100,110,120,130,140,150,160], "labelExpr": "datum.value % 20 === 0 ? datum.label : ''", "gridOpacity": {"condition": {"test": "datum.value % 20 === 0", "value": 1}, "value": 0}}},
    "color": {"field": "s", "type": "nominal", "scale": {"domain": ["Cut 1","Cut 2","Cut 3","Average"], "range": ["#222","#222","#222","#2a55a8"]}, "legend": {"legendX": 97, "legendY": 166}},
    "strokeDash": {"field": "s", "type": "nominal", "scale": {"domain": ["Cut 1","Cut 2","Cut 3","Average"], "range": [[4,3],[10,6],[1.5,2],[1,0]]}},
    "strokeWidth": {"field": "s", "type": "nominal", "scale": {"type": "ordinal", "domain": ["Cut 1","Cut 2","Cut 3","Average"], "range": [1.2,1.2,1.2,3.5]}}
   }},
  {"data": {"values": [{}]}, "mark": {"type": "text", "align": "left", "baseline": "alphabetic", "fontSize": 14.5},
   "encoding": {
    "x": {"datum": 4.0, "type": "quantitative", "scale": {"domain": [0, 35], "nice": false}, "axis": {"title": "Displacement [mm]"}},
    "y": {"datum": 148, "type": "quantitative", "scale": {"domain": [0, 160], "nice": false}, "axis": {"title": "Shear force [kN]", "labelOverlap": false, "values": [0,10,20,30,40,50,60,70,80,90,100,110,120,130,140,150,160], "labelExpr": "datum.value % 20 === 0 ? datum.label : ''", "gridOpacity": {"condition": {"test": "datum.value % 20 === 0", "value": 1}, "value": 0}}},
    "text": {"value": "Spec. 5 - Windward column"}}}
 ]
},
{
 "width": 288, "height": 238,
 "layer": [
  {"data": {"name": "p2"}, "mark": {"type": "line", "interpolate": "monotone"},
   "encoding": {
    "x": {"field": "x", "type": "quantitative", "scale": {"domain": [0, 35], "nice": false}, "axis": {"title": "Displacement [mm]"}},
    "y": {"field": "y", "type": "quantitative", "scale": {"domain": [0, 160], "nice": false}, "axis": {"title": "Shear force [kN]", "labelOverlap": false, "values": [0,10,20,30,40,50,60,70,80,90,100,110,120,130,140,150,160], "labelExpr": "datum.value % 20 === 0 ? datum.label : ''", "gridOpacity": {"condition": {"test": "datum.value % 20 === 0", "value": 1}, "value": 0}}},
    "color": {"field": "s", "type": "nominal", "scale": {"domain": ["Cut 4","Cut 5","Cut 6","Average"], "range": ["#222","#222","#222","#2a55a8"]}, "legend": {"legendX": 83, "legendY": 161}},
    "strokeDash": {"field": "s", "type": "nominal", "scale": {"domain": ["Cut 4","Cut 5","Cut 6","Average"], "range": [[4,3],[10,6],[1.5,2],[1,0]]}},
    "strokeWidth": {"field": "s", "type": "nominal", "scale": {"type": "ordinal", "domain": ["Cut 4","Cut 5","Cut 6","Average"], "range": [1.2,1.2,1.2,3.5]}}
   }},
  {"data": {"values": [{}]}, "mark": {"type": "text", "align": "left", "baseline": "alphabetic", "fontSize": 14.5},
   "encoding": {
    "x": {"datum": 3.25, "type": "quantitative", "scale": {"domain": [0, 35], "nice": false}, "axis": {"title": "Displacement [mm]"}},
    "y": {"datum": 147.7, "type": "quantitative", "scale": {"domain": [0, 160], "nice": false}, "axis": {"title": "Shear force [kN]", "labelOverlap": false, "values": [0,10,20,30,40,50,60,70,80,90,100,110,120,130,140,150,160], "labelExpr": "datum.value % 20 === 0 ? datum.label : ''", "gridOpacity": {"condition": {"test": "datum.value % 20 === 0", "value": 1}, "value": 0}}},
    "text": {"value": "Spec. 5 - Leeward column"}}}
 ]
},
{
 "width": 288, "height": 238,
 "layer": [
  {"data": {"name": "p3"}, "mark": {"type": "line", "interpolate": "monotone"},
   "encoding": {
    "x": {"field": "x", "type": "quantitative", "scale": {"domain": [0, 35], "nice": false}, "axis": {"title": "Displacement [mm]"}},
    "y": {"field": "y", "type": "quantitative", "scale": {"domain": [0, 120], "nice": false}, "axis": {"title": "Shear force [kN]", "labelOverlap": false, "values": [0,10,20,30,40,50,60,70,80,90,100,110,120], "labelExpr": "datum.value % 20 === 0 ? datum.label : ''", "gridOpacity": {"condition": {"test": "datum.value % 20 === 0", "value": 1}, "value": 0}}},
    "color": {"field": "s", "type": "nominal", "scale": {"domain": ["Cut 1","Cut 2","Cut 3","Average"], "range": ["#222","#222","#222","#2a55a8"]}, "legend": {"legendX": 111, "legendY": 153}},
    "strokeDash": {"field": "s", "type": "nominal", "scale": {"domain": ["Cut 1","Cut 2","Cut 3","Average"], "range": [[4,3],[10,6],[1.5,2],[1,0]]}},
    "strokeWidth": {"field": "s", "type": "nominal", "scale": {"type": "ordinal", "domain": ["Cut 1","Cut 2","Cut 3","Average"], "range": [1.2,1.2,1.2,3.5]}}
   }},
  {"data": {"values": [{}]}, "mark": {"type": "text", "align": "left", "baseline": "alphabetic", "fontSize": 14.5},
   "encoding": {
    "x": {"datum": 3.0, "type": "quantitative", "scale": {"domain": [0, 35], "nice": false}, "axis": {"title": "Displacement [mm]"}},
    "y": {"datum": 110.3, "type": "quantitative", "scale": {"domain": [0, 120], "nice": false}, "axis": {"title": "Shear force [kN]", "labelOverlap": false, "values": [0,10,20,30,40,50,60,70,80,90,100,110,120], "labelExpr": "datum.value % 20 === 0 ? datum.label : ''", "gridOpacity": {"condition": {"test": "datum.value % 20 === 0", "value": 1}, "value": 0}}},
    "text": {"value": "Spec. 8 - Windward column"}}}
 ]
},
{
 "width": 288, "height": 238,
 "layer": [
  {"data": {"name": "p4"}, "mark": {"type": "line", "interpolate": "monotone"},
   "encoding": {
    "x": {"field": "x", "type": "quantitative", "scale": {"domain": [0, 35], "nice": false}, "axis": {"title": "Displacement [mm]"}},
    "y": {"field": "y", "type": "quantitative", "scale": {"domain": [0, 120], "nice": false}, "axis": {"title": "Shear force [kN]", "labelOverlap": false, "values": [0,10,20,30,40,50,60,70,80,90,100,110,120], "labelExpr": "datum.value % 20 === 0 ? datum.label : ''", "gridOpacity": {"condition": {"test": "datum.value % 20 === 0", "value": 1}, "value": 0}}},
    "color": {"field": "s", "type": "nominal", "scale": {"domain": ["Cut 4","Cut 5","Cut 6","Average"], "range": ["#222","#222","#222","#2a55a8"]}, "legend": {"legendX": 53, "legendY": 159}},
    "strokeDash": {"field": "s", "type": "nominal", "scale": {"domain": ["Cut 4","Cut 5","Cut 6","Average"], "range": [[4,3],[10,6],[1.5,2],[1,0]]}},
    "strokeWidth": {"field": "s", "type": "nominal", "scale": {"type": "ordinal", "domain": ["Cut 4","Cut 5","Cut 6","Average"], "range": [1.2,1.2,1.2,3.5]}}
   }},
  {"data": {"values": [{}]}, "mark": {"type": "text", "align": "left", "baseline": "alphabetic", "fontSize": 14.5},
   "encoding": {
    "x": {"datum": 3.7, "type": "quantitative", "scale": {"domain": [0, 35], "nice": false}, "axis": {"title": "Displacement [mm]"}},
    "y": {"datum": 109.4, "type": "quantitative", "scale": {"domain": [0, 120], "nice": false}, "axis": {"title": "Shear force [kN]", "labelOverlap": false, "values": [0,10,20,30,40,50,60,70,80,90,100,110,120], "labelExpr": "datum.value % 20 === 0 ? datum.label : ''", "gridOpacity": {"condition": {"test": "datum.value % 20 === 0", "value": 1}, "value": 0}}},
    "text": {"value": "Spec. 8 - Leeward column"}}}
 ]
},
{
 "width": 288, "height": 238,
 "layer": [
  {"data": {"name": "p5"}, "mark": {"type": "line", "interpolate": "monotone"},
   "encoding": {
    "x": {"field": "x", "type": "quantitative", "scale": {"domain": [0, 35], "nice": false}, "axis": {"title": "Displacement [mm]"}},
    "y": {"field": "y", "type": "quantitative", "scale": {"domain": [0, 180], "nice": false}, "axis": {"title": "Shear force [kN]", "labelOverlap": false, "values": [0,10,20,30,40,50,60,70,80,90,100,110,120,130,140,150,160,170,180], "labelExpr": "datum.value % 20 === 0 ? datum.label : ''", "gridOpacity": {"condition": {"test": "datum.value % 20 === 0", "value": 1}, "value": 0}}},
    "color": {"field": "s", "type": "nominal", "scale": {"domain": ["Cut 1","Cut 2","Cut 3","Average"], "range": ["#222","#222","#222","#2a55a8"]}, "legend": {"legendX": 69, "legendY": 172}},
    "strokeDash": {"field": "s", "type": "nominal", "scale": {"domain": ["Cut 1","Cut 2","Cut 3","Average"], "range": [[4,3],[10,6],[1.5,2],[1,0]]}},
    "strokeWidth": {"field": "s", "type": "nominal", "scale": {"type": "ordinal", "domain": ["Cut 1","Cut 2","Cut 3","Average"], "range": [1.2,1.2,1.2,3.5]}}
   }},
  {"data": {"values": [{}]}, "mark": {"type": "text", "align": "left", "baseline": "alphabetic", "fontSize": 14.5},
   "encoding": {
    "x": {"datum": 2.9, "type": "quantitative", "scale": {"domain": [0, 35], "nice": false}, "axis": {"title": "Displacement [mm]"}},
    "y": {"datum": 165.4, "type": "quantitative", "scale": {"domain": [0, 180], "nice": false}, "axis": {"title": "Shear force [kN]", "labelOverlap": false, "values": [0,10,20,30,40,50,60,70,80,90,100,110,120,130,140,150,160,170,180], "labelExpr": "datum.value % 20 === 0 ? datum.label : ''", "gridOpacity": {"condition": {"test": "datum.value % 20 === 0", "value": 1}, "value": 0}}},
    "text": {"value": "Spec. 9 - Windward column"}}}
 ]
},
{
 "width": 288, "height": 238,
 "layer": [
  {"data": {"name": "p6"}, "mark": {"type": "line", "interpolate": "monotone"},
   "encoding": {
    "x": {"field": "x", "type": "quantitative", "scale": {"domain": [0, 35], "nice": false}, "axis": {"title": "Displacement [mm]"}},
    "y": {"field": "y", "type": "quantitative", "scale": {"domain": [0, 180], "nice": false}, "axis": {"title": "Shear force [kN]", "labelOverlap": false, "values": [0,10,20,30,40,50,60,70,80,90,100,110,120,130,140,150,160,170,180], "labelExpr": "datum.value % 20 === 0 ? datum.label : ''", "gridOpacity": {"condition": {"test": "datum.value % 20 === 0", "value": 1}, "value": 0}}},
    "color": {"field": "s", "type": "nominal", "scale": {"domain": ["Cut 4","Cut 5","Cut 6","Average"], "range": ["#222","#222","#222","#2a55a8"]}, "legend": {"legendX": 81, "legendY": 166}},
    "strokeDash": {"field": "s", "type": "nominal", "scale": {"domain": ["Cut 4","Cut 5","Cut 6","Average"], "range": [[4,3],[10,6],[1.5,2],[1,0]]}},
    "strokeWidth": {"field": "s", "type": "nominal", "scale": {"type": "ordinal", "domain": ["Cut 4","Cut 5","Cut 6","Average"], "range": [1.2,1.2,1.2,3.5]}}
   }},
  {"data": {"values": [{}]}, "mark": {"type": "text", "align": "left", "baseline": "alphabetic", "fontSize": 14.5},
   "encoding": {
    "x": {"datum": 3.85, "type": "quantitative", "scale": {"domain": [0, 35], "nice": false}, "axis": {"title": "Displacement [mm]"}},
    "y": {"datum": 165.4, "type": "quantitative", "scale": {"domain": [0, 180], "nice": false}, "axis": {"title": "Shear force [kN]", "labelOverlap": false, "values": [0,10,20,30,40,50,60,70,80,90,100,110,120,130,140,150,160,170,180], "labelExpr": "datum.value % 20 === 0 ? datum.label : ''", "gridOpacity": {"condition": {"test": "datum.value % 20 === 0", "value": 1}, "value": 0}}},
    "text": {"value": "Spec. 9 - Leeward column"}}}
 ]
}
]
}
